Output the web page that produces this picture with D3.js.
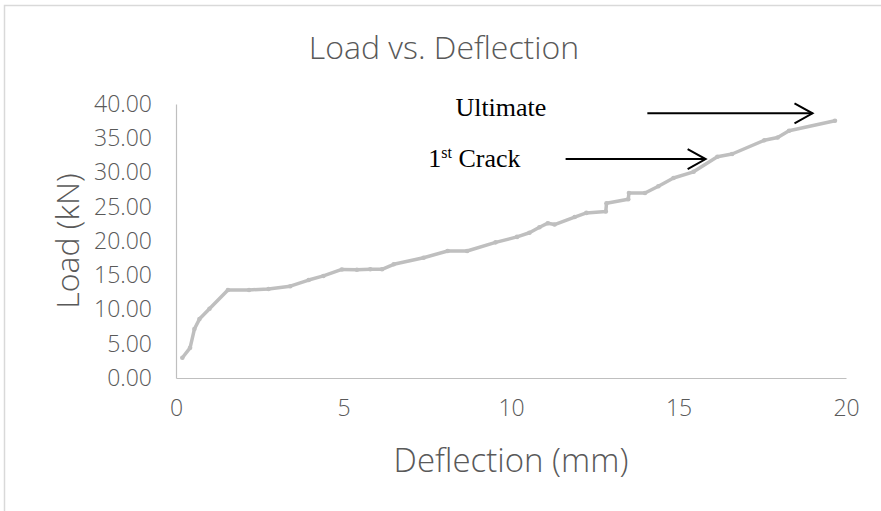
<!DOCTYPE html>
<html>
<head>
<meta charset="utf-8">
<script src="https://cdn.jsdelivr.net/npm/d3@7/dist/d3.min.js"></script>
<style>
  html, body { margin: 0; padding: 0; background: #fff; }
  svg { display: block; }
</style>
</head>
<body>
<svg id="chart" width="881" height="511"></svg>
<script>
// Load–deflection readings
const deflection = [0.19, 0.42, 0.55, 0.70, 1.00, 1.55, 2.18, 2.76, 3.41, 3.96, 4.40, 4.95, 5.40, 5.80, 6.15, 6.50,
  7.39, 8.11, 8.69, 9.54, 10.18, 10.55, 10.85, 11.10, 11.30, 11.90, 12.25, 12.83, 12.85, 13.50, 13.52, 14.00,
  14.40, 14.85, 15.45, 16.16, 16.60, 17.56, 17.96, 18.30, 19.67];
const load = [2.96, 4.40, 7.15, 8.60, 10.10, 12.85, 12.85, 13.00, 13.40, 14.30, 14.90, 15.85, 15.80, 15.87, 15.87, 16.60,
  17.56, 18.54, 18.54, 19.80, 20.60, 21.20, 22.00, 22.60, 22.40, 23.50, 24.10, 24.30, 25.50, 26.10, 27.00, 27.00,
  28.00, 29.20, 30.10, 32.30, 32.70, 34.70, 35.10, 36.10, 37.56];

const xTicks = [0, 5, 10, 15, 20];
const yTicks = [0, 5, 10, 15, 20, 25, 30, 35, 40];

// Annotation arrows and their labels (data coordinates)
const arrowLabels = ["Ultimate", "1st Crack"];
const arrowFromX = [14.07, 11.63];
const arrowToX = [19.0, 15.81];
const arrowY = [38.64, 31.97];
const labelX = [8.34, 7.53];
const labelY = [38.29, 30.85];

const svg = d3.select("#chart");
const W = 881, H = 511;
const margin = { left: 176, right: 35, top: 104, bottom: 133 };

const x = d3.scaleLinear().domain([0, 20]).range([margin.left, W - margin.right]);
const y = d3.scaleLinear().domain([0, 40]).range([H - margin.bottom, margin.top]);

const textColor = "#595959";
const sans = "'Open Sans', 'Noto Sans', sans-serif";

// outer chart frame
svg.append("rect")
  .attr("x", 4.5).attr("y", 5.5)
  .attr("width", W + 10).attr("height", H + 10)
  .attr("fill", "none").attr("stroke", "#D9D9D9").attr("stroke-width", 1.5);

// title
svg.append("text")
  .attr("x", 444).attr("y", 59)
  .attr("text-anchor", "middle")
  .attr("font-family", sans).attr("font-weight", 300)
  .attr("font-size", 32).attr("fill", textColor)
  .text("Load vs. Deflection");

// axes
const xAxis = d3.axisBottom(x).tickValues(xTicks).tickFormat(d3.format("d")).tickSize(0).tickPadding(22);
const yAxis = d3.axisLeft(y).tickValues(yTicks).tickFormat(d3.format(".2f")).tickSize(0).tickPadding(24);

const gx = svg.append("g").attr("transform", `translate(0,${y(0)})`).call(xAxis);
const gy = svg.append("g").attr("transform", `translate(${x(0)},0)`).call(yAxis);

[gx, gy].forEach(g => {
  g.select(".domain").attr("stroke", "#BFBFBF").attr("stroke-width", 1.2);
  g.selectAll("text").attr("font-family", sans).attr("font-weight", 300)
    .attr("font-size", 23).attr("fill", textColor);
});

// axis titles
svg.append("text")
  .attr("x", x(10)).attr("y", 472)
  .attr("text-anchor", "middle")
  .attr("font-family", sans).attr("font-weight", 300)
  .attr("font-size", 33).attr("fill", textColor)
  .text("Deflection (mm)");

svg.append("text")
  .attr("transform", `translate(79,${(y(0) + y(40)) / 2}) rotate(-90)`)
  .attr("text-anchor", "middle")
  .attr("font-family", sans).attr("font-weight", 300)
  .attr("font-size", 32).attr("fill", textColor)
  .text("Load (kN)");

// load-deflection curve
const pts = deflection.map((d, i) => [d, load[i]]);
const line = d3.line().x(d => x(d[0])).y(d => y(d[1]));

svg.append("path")
  .datum(pts)
  .attr("d", line)
  .attr("fill", "none")
  .attr("stroke", "#BFBFBF")
  .attr("stroke-width", 3.5)
  .attr("stroke-linejoin", "round")
  .attr("stroke-linecap", "round");

svg.append("g").selectAll("circle")
  .data(pts)
  .join("circle")
  .attr("cx", d => x(d[0])).attr("cy", d => y(d[1]))
  .attr("r", 2.3).attr("fill", "#BFBFBF");

// annotations
const serif = "'Liberation Serif', 'DejaVu Serif', serif";
arrowLabels.forEach((lab, i) => {
  const x0 = x(arrowFromX[i]), x1 = x(arrowToX[i]), yy = y(arrowY[i]);
  const g = svg.append("g").attr("stroke", "#000").attr("stroke-width", 2).attr("fill", "none");
  g.append("line").attr("x1", x0).attr("y1", yy).attr("x2", x1).attr("y2", yy);
  g.append("path").attr("d", `M${x1 - 18},${yy - 10}L${x1},${yy}L${x1 - 18},${yy + 10}`);

  const t = svg.append("text")
    .attr("x", x(labelX[i])).attr("y", y(labelY[i]))
    .attr("font-family", serif).attr("font-size", 26).attr("fill", "#000");
  if (lab.startsWith("1st")) {
    t.append("tspan").text("1");
    t.append("tspan").attr("dy", -9).attr("font-size", 16).text("st");
    t.append("tspan").attr("dy", 9).text(" Crack");
  } else {
    t.text(lab);
  }
});
</script>
</body>
</html>
